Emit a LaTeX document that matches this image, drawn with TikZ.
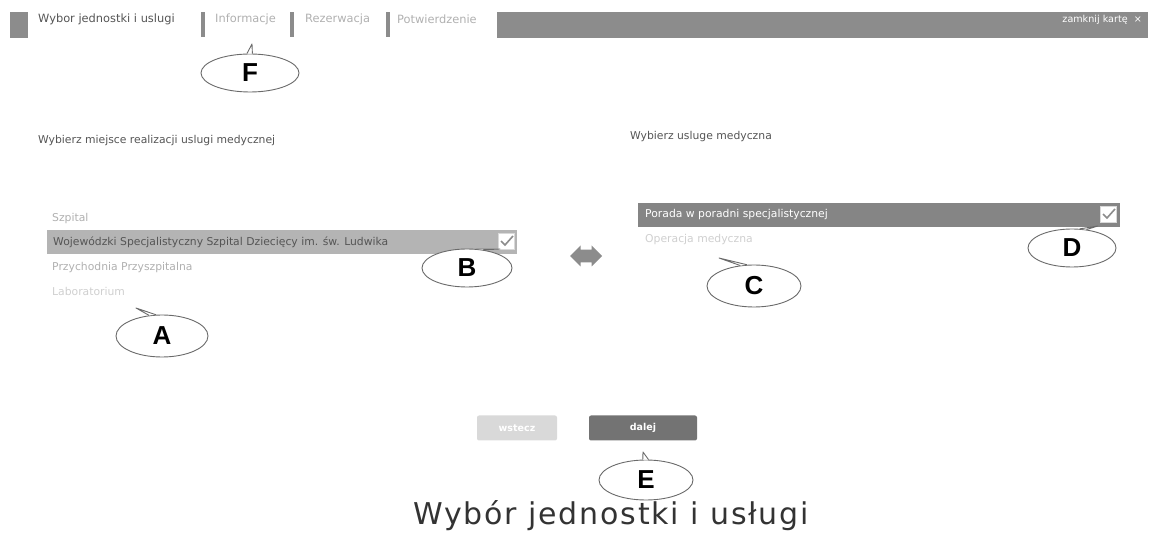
\documentclass[tikz,border=0pt]{standalone}
\usepackage{fontspec}
\setmainfont{DejaVu Sans}
\newfontfamily\labfont{Liberation Sans}
\newfontfamily\capfont[LetterSpace=6]{DejaVu Sans}
\usetikzlibrary{shapes.geometric,shapes.arrows,calc}
\definecolor{bargray}{HTML}{8C8C8C}
\definecolor{selgray}{HTML}{B4B4B4}
\definecolor{dkgray}{HTML}{858585}
\definecolor{txtdark}{HTML}{555555}
\definecolor{txtlight}{HTML}{B0B0B0}
\definecolor{txtvlight}{HTML}{CFCFCF}
\definecolor{lineg}{HTML}{6A6A6A}
\tikzset{
  ui/.style={anchor=west, inner sep=0pt, font=\fontsize{10.8}{12}\selectfont},
  tab/.style={anchor=west, inner sep=0pt, font=\fontsize{11.4}{13}\selectfont},
  callout/.style={ellipse, draw=lineg, line width=0.9pt, fill=white, inner sep=0pt,
     minimum width=96, minimum height=42, font=\labfont\bfseries\fontsize{26}{26}\selectfont},
  tail/.style={draw=lineg, line width=0.9pt, line join=round},
  sep/.style={fill=bargray, minimum width=3.5, minimum height=25, inner sep=0pt},
  chk/.style={fill=white, draw=white!85!black, minimum width=16, minimum height=16, inner sep=0pt},
  btn/.style={rounded corners=2pt, minimum height=25, inner sep=0pt, font=\bfseries\fontsize{9.5}{10}\selectfont, text=white},
}
\newcommand\mkcallout[6]{%
  \node[callout, minimum width=#3, minimum height=#4] (c#1) at (#2) {#1};
  \coordinate (tip#1) at (#5);
  \fill[white] (c#1.#6) -- (tip#1) -- (c#1.\the\numexpr#6-16\relax) -- cycle;
  \draw[tail] (c#1.#6) -- (tip#1) -- (c#1.\the\numexpr#6-16\relax);
}
\begin{document}
\begin{tikzpicture}[x=1pt,y=-1pt]
\useasboundingbox (0,0) rectangle (1152,534);
% top tab bar
\node[fill=bargray, minimum width=18, minimum height=26, inner sep=0pt] (sq) at (19,25) {};
\node[tab, text=txtdark] (t1) at (38,19) {Wybor jednostki i uslugi};
\node[sep] (s1) at (203,25) {};
\node[tab, text=txtlight] (t2) at (215,19) {Informacje};
\node[sep] (s2) at (292,25) {};
\node[tab, text=txtlight] (t3) at (305,19) {Rezerwacja};
\node[sep] (s3) at (388,25) {};
\node[tab, text=txtlight] (t4) at (397,19) {Potwierdzenie};
\node[fill=bargray, minimum width=651, minimum height=26, inner sep=0pt, anchor=west] (bar) at (497,25) {};
\node[ui, anchor=east, text=white, font=\fontsize{9.6}{11}\selectfont] (close) at (1142,20) {zamknij kartę \ ×};
% headings
\node[ui, text=txtdark] (h1) at (38,141) {Wybierz miejsce realizacji uslugi medycznej};
\node[ui, text=txtdark] (h2) at (630,137) {Wybierz usluge medyczna};
% left list
\node[ui, text=txtlight] (l1) at (52,219) {Szpital};
\node[fill=selgray, minimum width=470, minimum height=24, inner sep=0pt, anchor=west] (lsel) at (47,242) {};
\node[ui, text=txtdark] (l2) at (53,242) {Wojewódzki Specjalistyczny Szpital Dziecięcy im. św. Ludwika};
\node[chk] (cb1) at (506,241) {};
\draw[bargray, line width=1.6pt] ($(cb1.center)+(-5,0)$) -- ($(cb1.center)+(-1,4)$) -- ($(cb1.center)+(7,-5)$);
\node[ui, text=txtlight] (l3) at (52,268) {Przychodnia Przyszpitalna};
\node[ui, text=txtvlight] (l4) at (52,291) {Laboratorium};
% double arrow
\node[double arrow, fill=bargray, minimum width=21, minimum height=32, double arrow head extend=3, inner xsep=1pt, inner ysep=4.5pt] (arr) at (586,256) {};
% right list
\node[fill=dkgray, minimum width=482, minimum height=24, inner sep=0pt, anchor=west] (rsel) at (638,215) {};
\node[ui, text=white] (r1) at (645,215) {Porada w poradni specjalistycznej};
\node[chk] (cb2) at (1108,214) {};
\draw[bargray, line width=1.6pt] ($(cb2.center)+(-5,0)$) -- ($(cb2.center)+(-1,4)$) -- ($(cb2.center)+(7,-5)$);
\node[ui, text=txtvlight] (r2) at (645,240) {Operacja medyczna};
% buttons
\node[btn, fill=black!15, minimum width=80] (back) at (517,428) {wstecz};
\node[btn, fill=black!55, minimum width=108] (next) at (643,428) {dalej};
% callouts
\mkcallout{F}{250,73}{98}{38}{252,44}{99}
\mkcallout{A}{162,336}{92}{42}{136,308}{122}
\mkcallout{B}{467,268}{90}{38}{500,249}{64}
\mkcallout{C}{754,286}{94}{42}{719,258}{124}
\mkcallout{D}{1072,248}{88}{38}{1098,226}{68}
\mkcallout{E}{646,480}{94}{40}{643,452}{99}
% caption
\node[inner sep=0pt, font=\capfont\fontsize{30}{32}\selectfont, text=black!80] (cap) at (611,516) {Wybór jednostki i usługi};
\end{tikzpicture}
\end{document}
